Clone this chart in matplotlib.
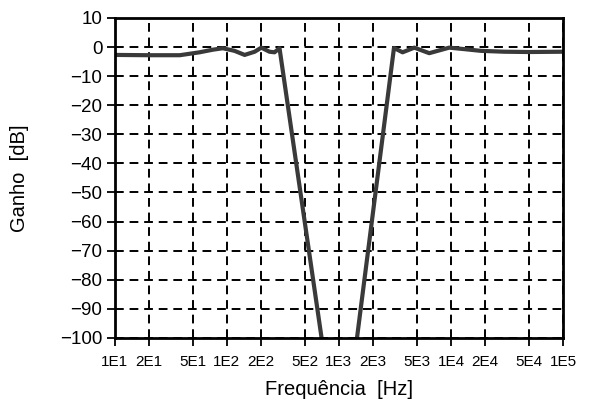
import numpy as np
import matplotlib
matplotlib.use("Agg")
import matplotlib.pyplot as plt
from matplotlib.ticker import FixedLocator, FixedFormatter, NullLocator

# ---- data ----
freq_hz = [10, 20, 38, 57, 75, 92, 117, 144, 177, 203, 240, 266, 295, 700,
           1000, 1450, 3100, 3700, 4710, 6400, 9640, 13100, 18500, 30000, 49700, 100000]
gain_db = [-2.7, -2.8, -2.8, -1.8, -0.9, -0.4, -1.3, -2.7, -1.6, -0.2, -1.6, -1.8, -0.4, -100,
           np.nan, -100, -0.3, -1.8, -0.2, -2.1, -0.2, -0.7, -1.3, -1.6, -1.7, -1.6]
x_ticks = [10, 20, 50, 100, 200, 500, 1000, 2000, 5000, 10000, 20000, 50000, 100000]
x_tick_labels = ["1E1", "2E1", "5E1", "1E2", "2E2", "5E2", "1E3", "2E3",
                 "5E3", "1E4", "2E4", "5E4", "1E5"]
y_ticks = list(range(-100, 11, 10))
y_tick_labels = [("\u2212%d" % -v if v < 0 else str(v)) for v in y_ticks]

plt.rcParams['font.family'] = ['Liberation Sans', 'DejaVu Sans']

fig = plt.figure(figsize=(5.92, 4.09), dpi=100)
ax = fig.add_axes([0.194, 0.174, 0.757, 0.782])

ax.plot(freq_hz, gain_db, color='#3a3a3a', linewidth=3.0, solid_joinstyle='round',
        solid_capstyle='butt', zorder=3)

ax.set_xscale('log')
ax.set_xlim(10, 100000)
ax.set_ylim(-100, 10)
ax.xaxis.set_major_locator(FixedLocator(x_ticks))
ax.xaxis.set_major_formatter(FixedFormatter(x_tick_labels))
ax.xaxis.set_minor_locator(NullLocator())
ax.set_yticks(y_ticks)
ax.set_yticklabels(y_tick_labels)

for lab in ax.get_xticklabels():
    lab.set_fontsize(11)
for lab in ax.get_yticklabels():
    lab.set_fontsize(13.5)

ax.tick_params(axis='both', direction='out', length=6, width=1.3, color='black', pad=3)
ax.tick_params(axis='x', pad=6)

ax.grid(True, which='major', color='black', linestyle=(0, (4.5, 3)), linewidth=1.4)
ax.set_axisbelow(True)

for sp in ax.spines.values():
    sp.set_linewidth(2.0)
    sp.set_zorder(4)

ax.set_xlabel("Frequência  [Hz]", fontsize=14.5, labelpad=8)
ax.set_ylabel("Ganho  [dB]", fontsize=14.5, labelpad=22)

fig.savefig("out.png", dpi=100)
